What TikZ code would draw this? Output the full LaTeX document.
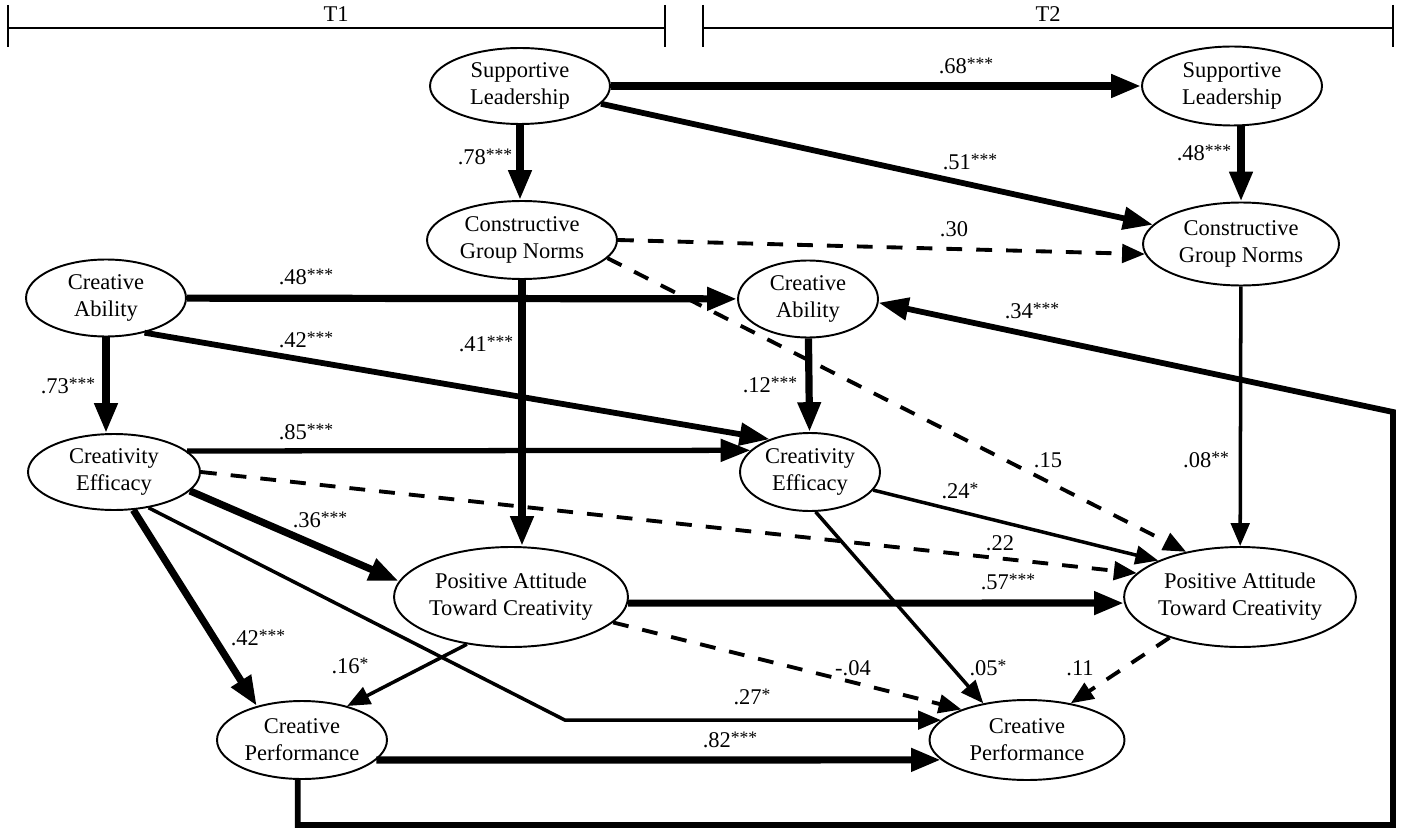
\documentclass[tikz,border=0pt]{standalone}
\usepackage{fontspec}
\setmainfont{Liberation Serif}
\usetikzlibrary{shapes.geometric, arrows.meta}

\newcommand{\sig}[1]{\raisebox{2.6pt}{\fontsize{10}{10}\selectfont#1}}

\tikzset{
  var/.style={draw, ellipse, line width=1.1pt, inner sep=0pt, align=center,
              font=\fontsize{12.8}{15.4}\selectfont},
  coef/.style={font=\fontsize{12.8}{15.4}\selectfont, inner sep=1pt},
  heavy/.style={line width=4.1pt, -{Triangle[length=17pt,width=12.5pt]}},
  strong/.style={line width=3.3pt, -{Triangle[length=17pt,width=12.5pt]}},
  light/.style={line width=2pt, -{Triangle[length=13pt,width=10.5pt]}},
  nonsig/.style={line width=2.2pt, dash pattern=on 9pt off 8pt,
                 -{Triangle[length=13pt,width=10.5pt]}},
}

\begin{document}
\begin{tikzpicture}[x=0.02cm, y=-0.02cm]
  \useasboundingbox (0,0) rectangle (1408,834);

  % time brackets
  \foreach \a/\b/\m/\t in {8/665/336/T1, 703/1393/1048/T2} {
    \draw[line width=1.4pt] (\a,5) -- (\a,47) (\a,28) -- (\b,28) (\b,5) -- (\b,47);
    \node[coef] (\t) at (\m,14) {\t};
  }

  % T1 variables
  \node[var, minimum width=3.6cm, minimum height=1.52cm] (SL1) at (520,86) {Supportive\\Leadership};
  \node[var, minimum width=3.8cm, minimum height=1.56cm] (CGN1) at (522,240) {Constructive\\Group Norms};
  \node[var, minimum width=3.2cm, minimum height=1.54cm] (CA1) at (106,298) {Creative\\Ability};
  \node[var, minimum width=3.44cm, minimum height=1.52cm] (CE1) at (114,472) {Creativity\\Efficacy};
  \node[var, minimum width=4.68cm, minimum height=2.0cm] (PA1) at (511,597) {Positive Attitude\\Toward Creativity};
  \node[var, minimum width=3.4cm, minimum height=1.56cm] (CP1) at (302,740) {Creative\\Performance};

  % T2 variables
  \node[var, minimum width=3.6cm, minimum height=1.58cm] (SL2) at (1232,86) {Supportive\\Leadership};
  \node[var, minimum width=3.92cm, minimum height=1.66cm] (CGN2) at (1241,244) {Constructive\\Group Norms};
  \node[var, minimum width=2.8cm, minimum height=1.54cm] (CA2) at (808,299) {Creative\\Ability};
  \node[var, minimum width=2.8cm, minimum height=1.56cm] (CE2) at (810,472) {Creativity\\Efficacy};
  \node[var, minimum width=4.6cm, minimum height=2.0cm] (PA2) at (1240,597) {Positive Attitude\\Toward Creativity};
  \node[var, minimum width=3.9cm, minimum height=1.6cm] (CP2) at (1027,740) {Creative\\Performance};

  % leadership and norms paths
  \draw[heavy] (SL1) -- (SL2);
  \draw[strong] (SL1) -- (CGN2);
  \draw[heavy] (SL1) -- (SL1 |- CGN1.north);
  \draw[heavy] (CGN2.north |- SL2.south) -- (CGN2.north);
  \draw[nonsig] (CGN1.east) -- (CGN2.186);
  \draw[nonsig] (CGN1.-12) -- (PA2.140);
  \draw[heavy] (CGN1) -- (CGN1 |- PA1.north);
  \draw[light] (CGN2) -- (PA2);

  % ability and efficacy paths
  \draw[heavy] (CA1) -- (CA2);
  \draw[strong] (CA1.-42) -- (CE2.141);
  \draw[heavy] (CA1) -- (CA1 |- CE1.north);
  \draw[heavy] (CA2) -- (CE2);
  \draw[line width=3pt, -{Triangle[length=17pt,width=12.5pt]}] (CE1.16) -- (CE2.160);
  \draw[nonsig] (CE1.east) -- (PA2.167);
  \draw[heavy] (CE1.-14) -- (PA1.172);
  \draw[heavy] (CE1.-63) -- (CP1.143);
  \coordinate (kink) at (565,0);
  \draw[light] (CE1.-46) -- (kink |- CP2.167) -- (CP2.167);
  \draw[light] (CE2.-16) -- (PA2.156);
  \draw[light] (CE2.-82) -- (CP2.140);

  % attitude and performance paths
  \draw[heavy] (PA1.-3) -- (PA2.183);
  \draw[nonsig] (PA1.-14) -- (CP2.155);
  \draw[light] (PA1.-133) -- (CP1.37);
  \draw[nonsig] (PA2.210) -- (CP2.40);
  \draw[heavy] (CP1.-15) -- (CP2.193);

  % performance T1 -> ability T2, routed round the frame
  \coordinate (fbB) at (1393,825);
  \coordinate (fbT) at (1393,412);
  \draw[strong] (CP1.-96) |- (fbB) -- (fbT) -- (CA2.-3);

  % coefficients
  \node[coef] (c68) at (966,66) {.68\sig{***}};
  \node[coef] (c51) at (970,162) {.51\sig{***}};
  \node[coef] (c78) at (485,157) {.78\sig{***}};
  \node[coef] (c48b) at (1204,153) {.48\sig{***}};
  \node[coef] (c30) at (954,229) {.30};
  \node[coef] (c48a) at (306,277) {.48\sig{***}};
  \node[coef] (c42a) at (306,340) {.42\sig{***}};
  \node[coef] (c73) at (68,386) {.73\sig{***}};
  \node[coef] (c41) at (486,344) {.41\sig{***}};
  \node[coef] (c12) at (770,385) {.12\sig{***}};
  \node[coef] (c34) at (1032,311) {.34\sig{***}};
  \node[coef] (c85) at (306,432) {.85\sig{***}};
  \node[coef] (c15) at (1048,460) {.15};
  \node[coef] (c08) at (1206,460) {.08\sig{**}};
  \node[coef] (c24) at (960,491) {.24\sig{*}};
  \node[coef] (c36) at (320,520) {.36\sig{***}};
  \node[coef] (c22) at (1000,543) {.22};
  \node[coef] (c57) at (1008,582) {.57\sig{***}};
  \node[coef] (c42b) at (258,638) {.42\sig{***}};
  \node[coef] (c16) at (350,666) {.16\sig{*}};
  \node[coef] (c04) at (853,668) {-.04};
  \node[coef] (c05) at (988,668) {.05\sig{*}};
  \node[coef] (c11) at (1080,668) {.11};
  \node[coef] (c27) at (752,697) {.27\sig{*}};
  \node[coef] (c82) at (730,740) {.82\sig{***}};
\end{tikzpicture}
\end{document}
